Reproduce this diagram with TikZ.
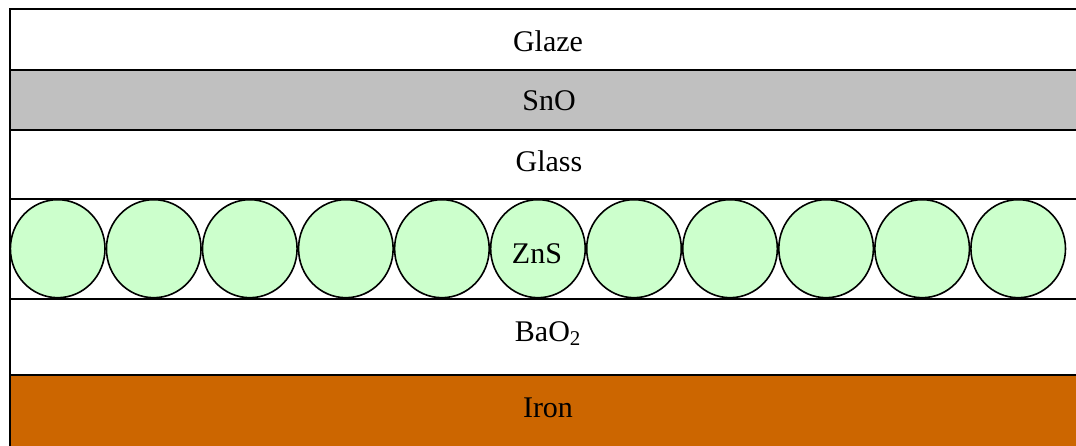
\documentclass[tikz,border=0pt]{standalone}
\usepackage{fontspec}
\setmainfont{Liberation Serif}
\definecolor{snogray}{HTML}{C0C0C0}
\definecolor{zncol}{HTML}{CCFFCC}
\definecolor{ironcol}{HTML}{CC6600}
\tikzset{
  px/.style={x=0.75pt,y=-0.75pt},
  layerline/.style={line width=1.5pt,draw=black},
  grain/.style={draw=black,line width=1.2pt,fill=zncol},
  label/.style={anchor=base,inner sep=0pt,font=\fontsize{22.5pt}{27pt}\selectfont}
}
\begin{document}
\begin{tikzpicture}[px]
\useasboundingbox (0,0) rectangle (1076,446);
% layer fills
\fill[white] (10,9) rectangle (1076,446);
\fill[snogray] (10,70) rectangle (1076,129.5);
\fill[ironcol] (10,374.5) rectangle (1076,446);
% ZnS grains
\foreach \i in {0,...,10}{
  \draw[grain] ({57.7+96.05*\i},248.7) ellipse [x radius=47.3, y radius=49];
}
% layer boundaries
\draw[layerline] (10,9) -- (1076,9);
\draw[layerline] (10,70) -- (1076,70);
\draw[layerline] (10,129.5) -- (1076,129.5);
\draw[layerline] (10,198.5) -- (1076,198.5);
\draw[layerline] (10,299) -- (1076,299);
\draw[layerline] (10,374.5) -- (1076,374.5);
\draw[line width=1.4pt] (10,8) -- (10,446);
% labels
\node[label] (glaze) at (548,51) {Glaze};
\node[label] (sno) at (549,110) {SnO};
\node[label] (glass) at (549,171) {Glass};
\node[label] (zns) at (537,263) {ZnS};
\node[label] (bao) at (548,341) {BaO\textsubscript{2}};
\node[label] (iron) at (548,417) {Iron};
\end{tikzpicture}
\end{document}
